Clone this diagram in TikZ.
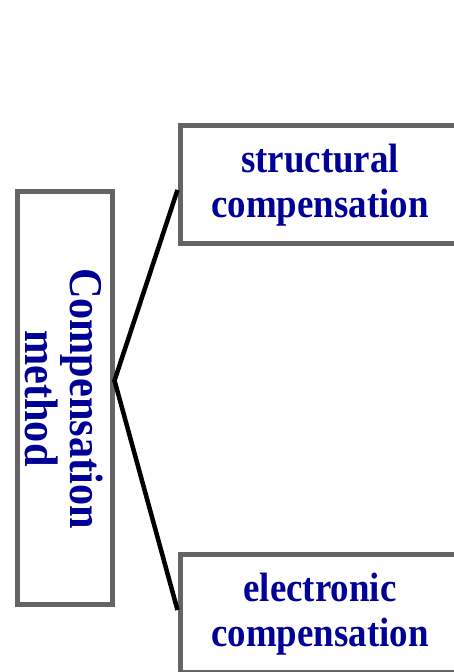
\documentclass[tikz,border=0pt]{standalone}
\usepackage{fontspec}
\usepackage{xcolor}
\usetikzlibrary{positioning}
\newfontfamily\boxfont{Liberation Serif}[FakeStretch=0.9]
\definecolor{boxgray}{RGB}{100,100,100}
\definecolor{textblue}{RGB}{0,0,150}

\begin{document}
\begin{tikzpicture}[
    x=1pt, y=1pt,
    box/.style={draw=boxgray, line width=5pt, fill=white, align=center, text=textblue, inner sep=0pt},
    sidebox/.style={box, minimum width=280pt, minimum height=118pt, font=\boxfont\bfseries\fontsize{41}{45}\selectfont},
    link/.style={line width=4.5pt, black},
]
\useasboundingbox (0,0) rectangle (454,672);

% Main box, text running downwards
\node[box, rotate=-90, minimum width=413pt, minimum height=95pt,
      font=\boxfont\bfseries\fontsize{47}{45}\selectfont] (method) at (64.5,273.5) {Compensation\\method};

% Two kinds of compensation
\node[sidebox] (struct) at (320,487) {structural\\compensation};
\node[sidebox] (electr) at (320,58) {electronic\\compensation};

% Fork
\coordinate (fork) at ([yshift=18pt]method.north);
\draw[link] ([yshift=-5pt]struct.west) -- (fork) -- ([yshift=4pt]electr.west);
\end{tikzpicture}
\end{document}
